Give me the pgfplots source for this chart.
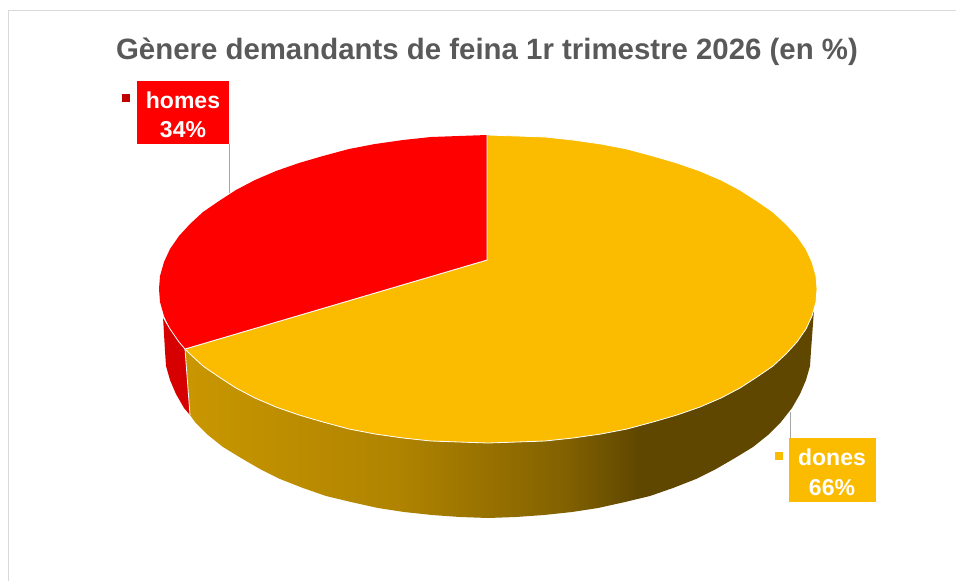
\documentclass[border=0pt]{standalone}
\usepackage{fontspec}
\setmainfont{Liberation Sans}
\usepackage{pgfplots}
\pgfplotsset{compat=1.18}

\definecolor{roig}{HTML}{FF0000}
\definecolor{roigfosc}{HTML}{D60000}
\definecolor{groc}{HTML}{FBBC00}
\definecolor{titol}{HTML}{595959}
\definecolor{marc}{HTML}{D9D9D9}
\definecolor{guia}{HTML}{A6A6A6}

% side of the yellow slice: lighter on the left, flat dark brown on the right
\pgfdeclarehorizontalshading{costat}{100bp}{
  color(0bp)=(groc!80!black);
  color(25bp)=(groc!80!black);
  color(42bp)=(groc!70!black);
  color(55bp)=(groc!52!black);
  color(61bp)=(groc!38!black);
  color(100bp)=(groc!38!black)}

\begin{document}
\begin{tikzpicture}
\begin{axis}[
    width=956pt, height=581pt,
    scale only axis,
    hide axis,
    xmin=0, xmax=956,
    ymin=0, ymax=581,
    y dir=reverse,
  ]
  % keep the whole page, a hidden axis adds nothing to the bounding box
  \path (rel axis cs:0,0) rectangle (rel axis cs:1,1);

  % chart frame
  \addplot[marc, line width=1pt] coordinates {(8,581) (8,10.5) (956,10.5)};

  % side wall, yellow
  \addplot[draw=none, shade, shading=costat] coordinates {
    (814,310) (812,316) (806,329) (797,342) (786,354) (773,366) (757,377)
    (740,388) (721,398) (700,407) (677,415) (653,422) (627,429) (601,434)
    (573,438) (545,441) (517,442) (488,443) (459,442) (431,441) (403,438)
    (375,434) (349,429) (323,422) (299,415) (276,407) (255,398) (236,388)
    (219,377) (203,366) (190,354) (185,349)
    (190,415) (195,422) (208,435) (223,447) (241,458) (260,469) (280,479)
    (303,488) (326,496) (351,502) (378,508) (404,512) (432,515) (460,517)
    (488,518) (516,517) (544,515) (572,512) (598,508) (625,502) (650,496)
    (673,488) (696,479) (716,469) (735,458) (753,447) (768,435) (781,422)
    (792,408) (800,394) (806,380) (810,366) (811,351)
  } -- cycle;

  % side wall, red
  \addplot[draw=none, fill=roigfosc] coordinates {
    (163,317) (170,329) (179,342) (185,349) (190,415) (184,408) (176,394)
    (170,380) (166,366) (165,351)
  } -- cycle;

  % top, dones 66
  \addplot[draw=white, line width=0.8pt, fill=groc] coordinates {
    (487,135) (487,260) (185,349) (190,354) (203,366) (219,377) (236,388)
    (255,398) (276,407) (299,415) (323,422) (349,429) (375,434) (403,438)
    (431,441) (459,442) (488,443) (517,442) (545,441) (573,438) (601,434)
    (627,429) (653,422) (677,415) (700,407) (721,398) (740,388) (757,377)
    (773,366) (786,354) (797,342) (806,329) (812,316) (816,302) (817,289)
    (816,276) (812,262) (806,249) (797,236) (786,224) (773,212) (757,201)
    (740,190) (721,180) (700,171) (677,163) (653,156) (627,149) (601,144)
    (573,140) (545,137) (517,136)
  } -- cycle;

  % top, homes 34
  \addplot[draw=none, fill=roig] coordinates {
    (487,260) (185,349) (179,342) (170,329) (164,316) (160,302) (159,289)
    (160,276) (164,262) (170,249) (179,236) (190,224) (203,212) (219,201)
    (236,190) (255,180) (276,171) (299,163) (323,156) (349,149) (375,144)
    (403,140) (431,137) (459,136) (487,135)
  } -- cycle;

  % pale edges between the slices
  \addplot[white, line width=0.8pt] coordinates {(487,135) (487,260) (185,349)};
  \addplot[white, line width=0.8pt] coordinates {
    (163,317) (170,329) (179,342) (185,349) (190,415)};

  % leader lines
  \addplot[guia, line width=0.8pt] coordinates {(229,144) (229,193)};
  \addplot[guia, line width=0.8pt] coordinates {(790,412) (790,438)};

  % label boxes and legend keys
  \addplot[draw=none, fill=roig] coordinates {(137,81) (229,81) (229,144) (137,144)} -- cycle;
  \addplot[draw=none, fill=groc] coordinates {(789,438) (876,438) (876,502) (789,502)} -- cycle;
  \addplot[only marks, mark=square*, mark size=3.5pt, mark options={draw=roig!75!black, fill=roig!75!black}]
    coordinates {(126,98)};
  \addplot[only marks, mark=square*, mark size=3.5pt, mark options={draw=groc, fill=groc}]
    coordinates {(779,456)};

  \node[anchor=base, text=titol, font=\fontsize{29.4}{32}\selectfont\bfseries]
    at (axis cs:487,59) {Gènere demandants de feina 1r trimestre 2026 (en \%)};
  \node[anchor=base, text=white, font=\fontsize{23}{28}\selectfont\bfseries]
    at (axis cs:183,108) {homes};
  \node[anchor=base, text=white, font=\fontsize{23}{28}\selectfont\bfseries]
    at (axis cs:183,137) {34\%};
  \node[anchor=base, text=white, font=\fontsize{23}{28}\selectfont\bfseries]
    at (axis cs:832,465) {dones};
  \node[anchor=base, text=white, font=\fontsize{23}{28}\selectfont\bfseries]
    at (axis cs:832,495) {66\%};
\end{axis}
\end{tikzpicture}
\end{document}
